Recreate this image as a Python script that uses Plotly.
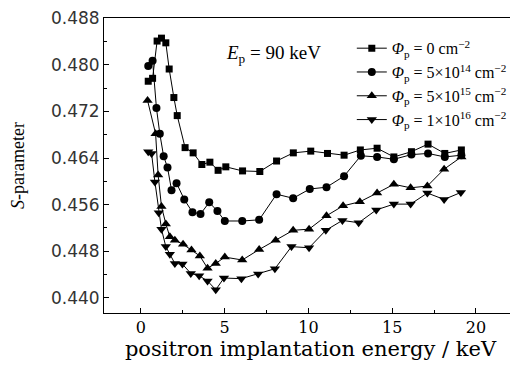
import plotly.graph_objects as go

# Energies (keV) and S-parameter values per fluence series
e_0 = [0.44, 0.70, 0.97, 1.23, 1.49, 1.69, 1.97, 2.17, 2.64, 3.12, 3.64, 4.12, 4.61, 5.07,
       6.07, 7.1, 8.1, 9.1, 10.14, 11.14, 12.13, 13.1, 14.1, 15.1, 16.15, 17.14, 18.14, 19.13]
s_0 = [0.4772, 0.4777, 0.4841, 0.4846, 0.4838, 0.4793, 0.4744, 0.4713, 0.4658, 0.4649, 0.4629,
       0.4633, 0.4619, 0.4625, 0.4618, 0.4617, 0.4635, 0.4649, 0.4652, 0.4648, 0.4645, 0.4654,
       0.4657, 0.4642, 0.4651, 0.4664, 0.4648, 0.4654]

e_14 = [0.44, 0.70, 0.93, 1.13, 1.36, 1.59, 1.83, 2.13, 2.59, 3.08, 3.56, 4.08, 4.57, 5.01,
        6.05, 7.06, 8.1, 9.09, 10.08, 11.08, 12.13, 13.13, 14.1, 15.1, 16.15, 17.14, 18.14, 19.13]
s_14 = [0.4798, 0.4807, 0.4726, 0.4682, 0.4643, 0.4624, 0.4585, 0.4597, 0.4569, 0.4547, 0.4544,
        0.4564, 0.4549, 0.4532, 0.4532, 0.4534, 0.4578, 0.4571, 0.4587, 0.4590, 0.4609, 0.4644,
        0.4642, 0.4638, 0.4646, 0.4648, 0.4642, 0.4645]

e_15 = [0.40, 0.88, 1.03, 1.23, 1.49, 1.73, 2.03, 2.52, 3.02, 3.52, 3.98, 4.47, 5.01,
        6.05, 7.06, 8.05, 9.09, 10.04, 11.08, 12.07, 13.07, 14.1, 15.1, 16.1, 17.1, 18.1, 19.13]
s_15 = [0.4739, 0.4682, 0.4611, 0.4557, 0.4527, 0.4505, 0.4499, 0.4492, 0.4482, 0.4472, 0.4451,
        0.4459, 0.4470, 0.4465, 0.4483, 0.4499, 0.4516, 0.4518, 0.4541, 0.4558, 0.4565, 0.4580,
        0.4595, 0.4589, 0.4592, 0.4621, 0.4642]

e_16 = [0.44, 0.64, 0.84, 1.07, 1.23, 1.49, 1.73, 2.03, 2.48, 2.98, 3.48, 3.98, 4.47, 4.96,
        6.0, 7.0, 8.0, 8.99, 10.04, 11.04, 12.03, 13.0, 14.05, 15.1, 16.1, 17.1, 18.1, 19.1]
s_16 = [0.4651, 0.4648, 0.4599, 0.4546, 0.4518, 0.4488, 0.4475, 0.4459, 0.4458, 0.4442, 0.4438,
        0.4429, 0.4414, 0.4434, 0.4433, 0.4441, 0.4450, 0.4488, 0.4486, 0.4516, 0.4533, 0.4529,
        0.4551, 0.4561, 0.4561, 0.4580, 0.4569, 0.4581]

labels = [
    "<i>Φ</i><sub>p</sub> = 0 cm<sup>−2</sup>",
    "<i>Φ</i><sub>p</sub> = 5×10<sup>14</sup> cm<sup>−2</sup>",
    "<i>Φ</i><sub>p</sub> = 5×10<sup>15</sup> cm<sup>−2</sup>",
    "<i>Φ</i><sub>p</sub> = 1×10<sup>16</sup> cm<sup>−2</sup>",
]
symbols = ["square", "circle", "triangle-up", "triangle-down"]
sizes = [7, 8, 9, 9]

y_ticks = [0.440, 0.448, 0.456, 0.464, 0.472, 0.480, 0.488]
x_ticks = [0, 5, 10, 15, 20]

fig = go.Figure()
for xs, ys, lab, sym, sz in zip([e_0, e_14, e_15, e_16], [s_0, s_14, s_15, s_16],
                                labels, symbols, sizes):
    fig.add_trace(go.Scatter(
        x=xs, y=ys, mode="lines+markers", name=lab,
        line=dict(color="black", width=1),
        marker=dict(symbol=sym, size=sz, color="black"),
    ))

serif = "Liberation Serif, Times New Roman, serif"
wide_serif = "DejaVu Serif, serif"
# page body has an 8px default margin, so the figure is drawn 8px smaller
fig.update_layout(
    width=510, height=362,
    margin=dict(l=96, r=1, t=10, b=57, autoexpand=False),
    paper_bgcolor="white", plot_bgcolor="white",
    showlegend=True,
    legend=dict(x=0.6, y=0.955, xanchor="left", yanchor="top",
                bgcolor="rgba(0,0,0,0)", font=dict(family=serif, size=16, color="black"),
                tracegroupgap=0, itemwidth=30),
    xaxis=dict(range=[-2.2, 22.45], tickvals=x_ticks, ticks="inside", ticklen=5,
               tickcolor="black", showline=True, linecolor="black", linewidth=1, mirror=True,
               showgrid=False, zeroline=False, automargin=False,
               minor=dict(dtick=2.5, ticks="inside", ticklen=3, tickcolor="black"),
               tickfont=dict(family=wide_serif, size=16, color="black"),
               title=dict(text="positron implantation energy / keV",
                          font=dict(family=wide_serif, size=21, color="black"), standoff=2)),
    yaxis=dict(range=[0.4374, 0.48806], tickvals=y_ticks, tickformat=".3f", ticks="inside",
               ticklen=5, tickcolor="black", showline=True, linecolor="black", linewidth=1,
               mirror=True, showgrid=False, zeroline=False, automargin=False,
               minor=dict(dtick=0.004, ticks="inside", ticklen=3, tickcolor="black"),
               tickfont=dict(family="DejaVu Sans, sans-serif", size=17, color="#333"),
               title=dict(text="<i>S</i>-parameter",
                          font=dict(family=serif, size=18, color="black"), standoff=26)),
    annotations=[dict(x=0.29, y=0.878, xref="paper", yref="paper", xanchor="left",
                      yanchor="middle", showarrow=False,
                      text="<i>E</i><sub>p</sub> = 90 keV",
                      font=dict(family=serif, size=19, color="black"))],
)

fig.write_html("out.html")
